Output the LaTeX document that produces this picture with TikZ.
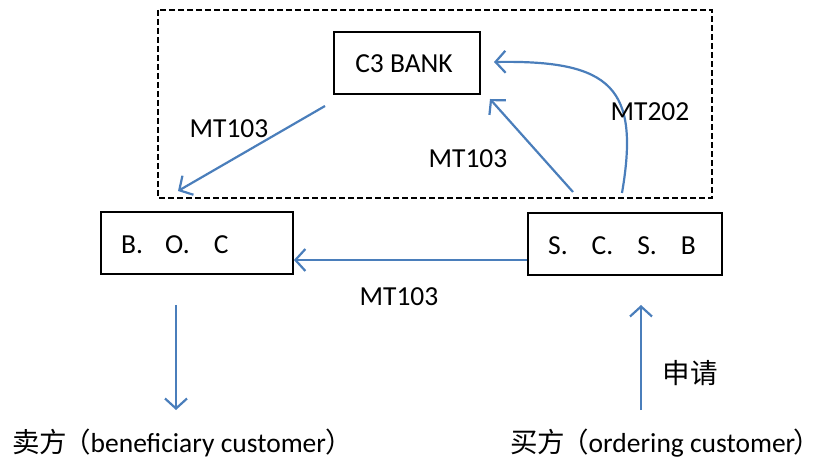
\documentclass[tikz,border=0pt]{standalone}
\usepackage{fontspec}
\setmainfont{Carlito}
\newfontfamily\cjk{Noto Sans CJK SC}
\usetikzlibrary{arrows.meta}
\definecolor{flowblue}{HTML}{4A7EBB}
\tikzset{
  box/.style={draw=black, line width=1.8pt, minimum width=#1, minimum height=62pt, inner sep=0pt},
  flow/.style={draw=flowblue, line width=2.2pt, -{Straight Barb[length=10pt,width=22pt,line width=2.2pt]}},
  lbl/.style={inner sep=0pt, font=\fontsize{27.5}{32}\selectfont},
}
\begin{document}
\begin{tikzpicture}[x=1pt, y=-1pt]
\useasboundingbox (0,0) rectangle (825,462);
% dashed frame round the correspondent bank
\draw[line width=1.6pt, dash pattern=on 6pt off 3pt] (158,10) rectangle (712,198);

% banks
\node[box=146pt, minimum height=62pt] (c3) at (407,63) {};
\node[lbl] (c3t) at (404,64) {C3 BANK};
\node[box=192pt] (boc) at (197,243) {};
\node[lbl, anchor=west] (boct) at (121,245) {B.\hspace{22pt}O.\hspace{24pt}C};
\node[box=194pt] (scsb) at (625,244) {};
\node[lbl, anchor=west] (scsbt) at (548,246) {S.\hspace{24pt}C.\hspace{24pt}S.\hspace{24pt}B};

% connector end points
\coordinate (c3out) at (325,106);
\coordinate (bocin) at (178,191);
\coordinate (scsbout1) at (573,192);
\coordinate (c3in1) at (490,99);
\coordinate (scsbout2) at (622,193);
\coordinate (c3in2) at (494,62);
\coordinate (seller) at (176,410);
\coordinate (bocout) at (176,305);
\coordinate (buyer) at (641,410);
\coordinate (scsbin) at (641,305);

% messages
\draw[flow] (c3out) -- (bocin);
\draw[flow] (scsbout1) -- (c3in1);
\draw[flow] (scsbout2) .. controls (640,88) and (612,60) .. (c3in2);
\draw[flow] (scsb.west |- 0,260) -- (boc.east |- 0,260);
\draw[flow] (bocout) -- (seller);
\draw[flow] (buyer) -- (scsbin);

% labels
\node[lbl] (m1) at (229,129) {MT103};
\node[lbl] (m2) at (468,159) {MT103};
\node[lbl] (m3) at (650,112) {MT202};
\node[lbl] (m4) at (399,297) {MT103};
\node[lbl] (apply) at (690,373) {\cjk 申请};
\node[lbl, anchor=west] (sellert) at (12,443) {\cjk 卖方\hspace{-4pt}（\normalfont beneficiary customer\cjk ）};
\node[lbl, anchor=east] (buyert) at (821,443) {\cjk 买方\hspace{-4pt}（\normalfont ordering customer\cjk \hspace{-2pt}）};
\end{tikzpicture}
\end{document}
